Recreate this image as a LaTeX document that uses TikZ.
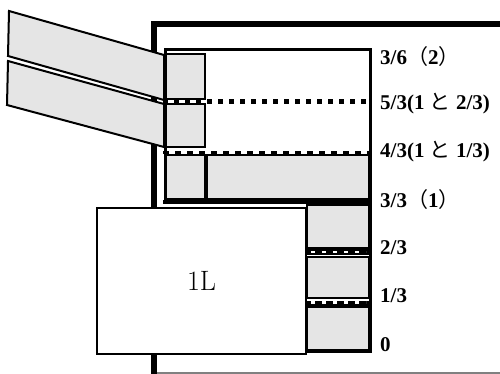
\documentclass[tikz,border=0pt]{standalone}
\usepackage{fontspec}
\newfontfamily\lblfont{Liberation Serif}
\newfontfamily\jpfont{Noto Sans CJK JP}

\begin{document}
\begin{tikzpicture}[x=1pt, y=-1pt,
		wall/.style={line width=6pt},
		rim/.style={line width=3pt},
		block/.style={draw, line width=2pt, fill=black!10},
		board/.style={draw, line width=2pt, fill=black!10},
		band/.style={line width=6.5pt},
		gap/.style={white, line width=2.5pt, dash pattern=on 4pt off 7pt},
		lvl/.style={anchor=west, inner sep=0pt, font=\lblfont\bfseries\fontsize{21}{24}\selectfont}]
	\useasboundingbox (0,0) rectangle (500,374);
	% outer wall
	\draw[wall] (500,24) -- (154,24) -- (154,374);
	\draw[gray, line width=1.5pt] (157,373) -- (500,373);
	% tilted boards
	\filldraw[board] (9,11) -- (164,55) -- (164,100) -- (8,56) -- cycle;
	\filldraw[board] (8,61) -- (164,104) -- (164,147) -- (7,105) -- cycle;
	% upper blocks
	\filldraw[block] (165,54) rectangle (205,99);
	\filldraw[block] (165,104) rectangle (205,147);
	\filldraw[block] (165,155) rectangle (205,199);
	\filldraw[block] (207,155) rectangle (369,199);
	% container
	\draw[rim] (165,201) -- (165,50) -- (370,50) -- (370,352);
	% level lines
	\draw[line width=4.5pt, dash pattern=on 5pt off 6pt] (163,101.5) -- (368,101.5);
	\draw[line width=3pt, dash pattern=on 6pt off 6pt] (163,152.5) -- (370,152.5);
	\draw[line width=4pt] (163,202) -- (372,202);
	% lower column
	\filldraw[block] (307,205) rectangle (369,248);
	\filldraw[block] (307,257) rectangle (369,298);
	\filldraw[block] (307,307) rectangle (369,350);
	\draw[band] (305,252) -- (371,252);
	\draw[gap] (311,252) -- (366,252);
	\draw[band] (305,304) -- (371,304);
	\draw[gap] (311,302.5) -- (366,302.5);
	\draw[rim] (305,351) -- (372,351);
	% 1L box
	\node[draw, line width=2.5pt, fill=white, minimum width=209pt, minimum height=146pt,
		font=\fontsize{28}{30}\selectfont] (oneL) at (201.5,281) {1L};
	% labels
	\node[lvl] (lvl6) at (380,57) {3/6{\jpfont\mdseries（}2{\jpfont\mdseries）}};
	\node[lvl] (lvl5) at (380,104) {5/3(1 {\jpfont\mdseries と} 2/3)};
	\node[lvl] (lvl4) at (380,152) {4/3(1 {\jpfont\mdseries と} 1/3)};
	\node[lvl] (lvl3) at (380,200) {3/3{\jpfont\mdseries（}1{\jpfont\mdseries）}};
	\node[lvl] (lvl2) at (380,248) {2/3};
	\node[lvl] (lvl1) at (380,296) {1/3};
	\node[lvl] (lvl0) at (380,345) {0};
\end{tikzpicture}
\end{document}
